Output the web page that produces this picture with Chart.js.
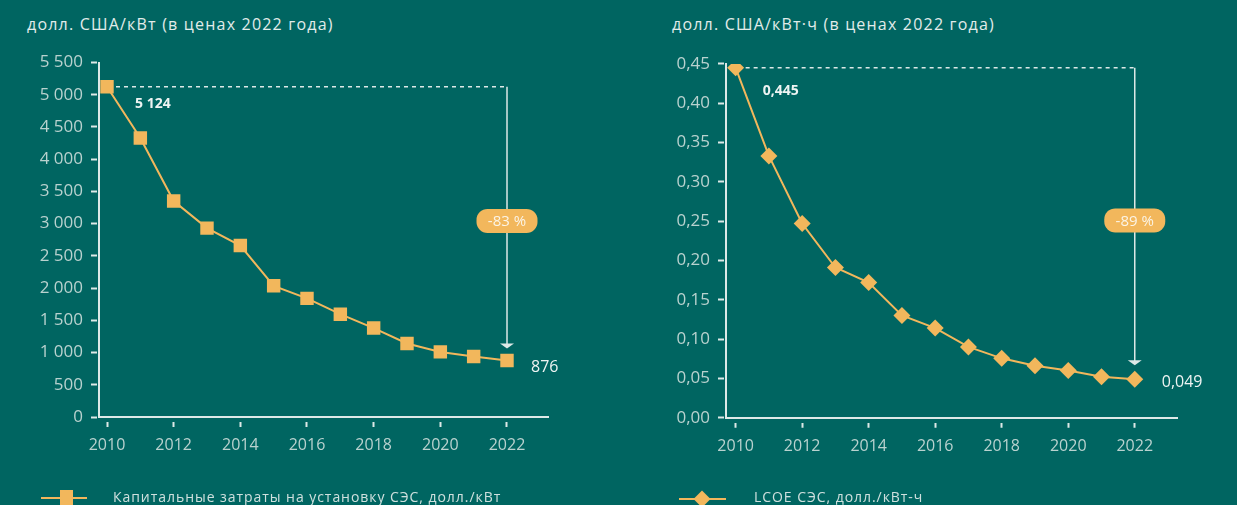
<!DOCTYPE html>
<html>
<head>
<meta charset="utf-8">
<script src="https://cdn.jsdelivr.net/npm/chart.js@4/dist/chart.umd.min.js"></script>
<style>
html, body { margin: 0; padding: 0; background: #006561; width: 1237px; height: 505px; overflow: hidden; font-family: 'Open Sans', sans-serif; }
canvas { position: absolute; top: 0; }
.title { position: absolute; top: 13px; color: #e2ecea; font-size: 16px; letter-spacing: 1.2px; white-space: nowrap; }
.legend-text { position: absolute; top: 487px; color: #cfe0de; font-size: 14px; letter-spacing: 0.95px; white-space: nowrap; }
.legend-line { position: absolute; height: 2px; background: #f2b75c; }
.legend-mark { position: absolute; background: #f2b75c; }
</style>
</head>
<body>
<div class="title" style="left:27px">долл. США/кВт (в ценах 2022 года)</div>
<div class="title" style="left:672px">долл. США/кВт·ч (в ценах 2022 года)</div>

<canvas id="capexChart" width="618" height="505" style="left:0"></canvas>
<canvas id="lcoeChart" width="619" height="505" style="left:618px"></canvas>

<div class="legend-line" style="left:41px; top:497px; width:46px"></div>
<div class="legend-mark" style="left:60px; top:490px; width:13px; height:15px"></div>
<div class="legend-text" style="left:113px">Капитальные затраты на установку СЭС, долл./кВт</div>

<div class="legend-line" style="left:679px; top:498px; width:47px"></div>
<div class="legend-mark" style="left:696px; top:493px; width:12px; height:12px; transform:rotate(45deg)"></div>
<div class="legend-text" style="left:754px">LCOE СЭС, долл./кВт-ч</div>

<script>
var years = [2010, 2011, 2012, 2013, 2014, 2015, 2016, 2017, 2018, 2019, 2020, 2021, 2022];
var yearTicks = [2010, 2012, 2014, 2016, 2018, 2020, 2022];
var capexValues = [5124, 4330, 3350, 2930, 2660, 2035, 1840, 1595, 1380, 1140, 1010, 940, 876];
var lcoeValues = [0.445, 0.333, 0.247, 0.191, 0.172, 0.130, 0.114, 0.090, 0.0755, 0.066, 0.060, 0.052, 0.049];
var capexTicks = [0, 500, 1000, 1500, 2000, 2500, 3000, 3500, 4000, 4500, 5000, 5500];
var lcoeTicks = [0, 0.05, 0.10, 0.15, 0.20, 0.25, 0.30, 0.35, 0.40, 0.45];

var orange = '#f2b75c';
var lineColor = '#dde9e7';
var tickText = '#b9d2cf';

function fmtThousands(v) {
    return String(Math.round(v)).replace(/\B(?=(\d{3})+(?!\d))/g, ' ');
}
function fmtComma(v, digits) {
    return v.toFixed(digits).replace('.', ',');
}

// dashed level line, arrow down to last point, badge with % change, value labels
var dropPlugin = {
    id: 'drop',
    afterDatasetsDraw: function(chart, args, opts) {
        var pts = chart.getDatasetMeta(0).data;
        var p0 = pts[0], p1 = pts[pts.length - 1];
        var vals = chart.data.datasets[0].data;
        var first = vals[0].y, last = vals[vals.length - 1].y;
        var ctx = chart.ctx;
        ctx.save();
        ctx.strokeStyle = lineColor;
        ctx.fillStyle = lineColor;
        ctx.lineWidth = 1.5;

        ctx.setLineDash([4, 4]);
        ctx.beginPath();
        ctx.moveTo(p0.x + opts.markerHalf + 2, p0.y);
        ctx.lineTo(p1.x, p0.y);
        ctx.stroke();
        ctx.setLineDash([]);

        var tipY = p1.y - opts.markerHalf - opts.arrowGap;
        ctx.beginPath();
        ctx.moveTo(p1.x, p0.y);
        ctx.lineTo(p1.x, tipY - 4);
        ctx.stroke();
        ctx.beginPath();
        ctx.moveTo(p1.x - 7, tipY - 5);
        ctx.lineTo(p1.x + 7, tipY - 5);
        ctx.lineTo(p1.x, tipY);
        ctx.closePath();
        ctx.fill();

        // badge
        var by = p0.y + (p1.y - p0.y) * 0.49;
        var bw = 61, bh = 24;
        ctx.fillStyle = orange;
        ctx.beginPath();
        ctx.roundRect(p1.x - bw / 2, by - bh / 2, bw, bh, 11);
        ctx.fill();
        ctx.fillStyle = '#fbf4e6';
        ctx.font = '15px "Open Sans"';
        ctx.textAlign = 'center';
        ctx.textBaseline = 'middle';
        var pct = Math.round((last / first - 1) * 100);
        ctx.fillText('-' + Math.abs(pct) + ' %', p1.x, by + 1);

        // value labels
        ctx.fillStyle = '#eef4f3';
        ctx.textAlign = 'left';
        ctx.font = 'bold 14px "Open Sans"';
        ctx.fillText(opts.format(first), p0.x + opts.firstDx, p0.y + opts.firstDy);
        ctx.font = '16px "Open Sans"';
        ctx.fillText(opts.format(last), p1.x + opts.lastDx, p1.y + opts.lastDy);
        ctx.restore();
    }
};

function makeChart(id, values, yTicks, cfg) {
    var ctx = document.getElementById(id).getContext('2d');
    return new Chart(ctx, {
        type: 'line',
        data: {
            datasets: [{
                data: years.map(function(y, i) { return { x: y, y: values[i] }; }),
                borderColor: orange,
                borderWidth: 2,
                tension: 0,
                pointStyle: cfg.pointStyle,
                pointRadius: cfg.pointRadius,
                pointBackgroundColor: orange,
                pointBorderWidth: 0
            }]
        },
        options: {
            responsive: false,
            animation: false,
            devicePixelRatio: 1,
            layout: { padding: { left: 0, top: cfg.top, right: cfg.right, bottom: 0 } },
            plugins: {
                legend: { display: false },
                tooltip: { enabled: false },
                drop: cfg.drop
            },
            scales: {
                x: {
                    type: 'linear',
                    min: cfg.xMin,
                    max: cfg.xMax,
                    afterBuildTicks: function(s) { s.ticks = yearTicks.map(function(v) { return { value: v }; }); },
                    afterFit: function(s) { s.height = cfg.xHeight; s.paddingLeft = 0; s.paddingRight = 0; },
                    border: { display: true, color: lineColor, width: 2 },
                    grid: { drawOnChartArea: false, drawTicks: true, tickLength: 10, tickWidth: 2, tickColor: lineColor, tickBorderDash: [0, 4, 5, 100] },
                    ticks: { color: tickText, font: { family: 'Open Sans', size: 16 }, padding: 9, maxRotation: 0, autoSkip: false, callback: function(v) { return String(v); } }
                },
                y: {
                    min: 0,
                    max: yTicks[yTicks.length - 1],
                    afterBuildTicks: function(s) { s.ticks = yTicks.map(function(v) { return { value: v }; }); },
                    afterFit: function(s) { s.width = cfg.yWidth; s.paddingTop = 0; s.paddingBottom = 0; },
                    border: { display: true, color: lineColor, width: 2 },
                    grid: { drawOnChartArea: false, drawTicks: true, tickLength: 8, tickWidth: 2, tickColor: lineColor, tickBorderDash: [6, 100] },
                    ticks: { color: tickText, font: { family: 'Open Sans', size: 17 }, padding: 8, autoSkip: false, callback: cfg.tickFormat }
                }
            }
        },
        plugins: [dropPlugin]
    });
}

makeChart('capexChart', capexValues, capexTicks, {
    pointStyle: 'rect', pointRadius: 9.5,
    top: 62.5, right: 70, xHeight: 88, yWidth: 99,
    xMin: 2009.76, xMax: 2023.23,
    tickFormat: function(v) { return fmtThousands(v); },
    drop: { markerHalf: 7, arrowGap: 5, firstDx: 28, firstDy: 17, lastDx: 24, lastDy: 7, format: fmtThousands }
});

makeChart('lcoeChart', lcoeValues, lcoeTicks, {
    pointStyle: 'rectRot', pointRadius: 8.5,
    top: 63.9, right: 60, xHeight: 87.3, yWidth: 108,
    xMin: 2009.71, xMax: 2023.27,
    tickFormat: function(v) { return fmtComma(v, 2); },
    drop: { markerHalf: 8, arrowGap: 6, firstDx: 27, firstDy: 23, lastDx: 27, lastDy: 3, format: function(v) { return fmtComma(v, 3); } }
});
</script>
</body>
</html>
